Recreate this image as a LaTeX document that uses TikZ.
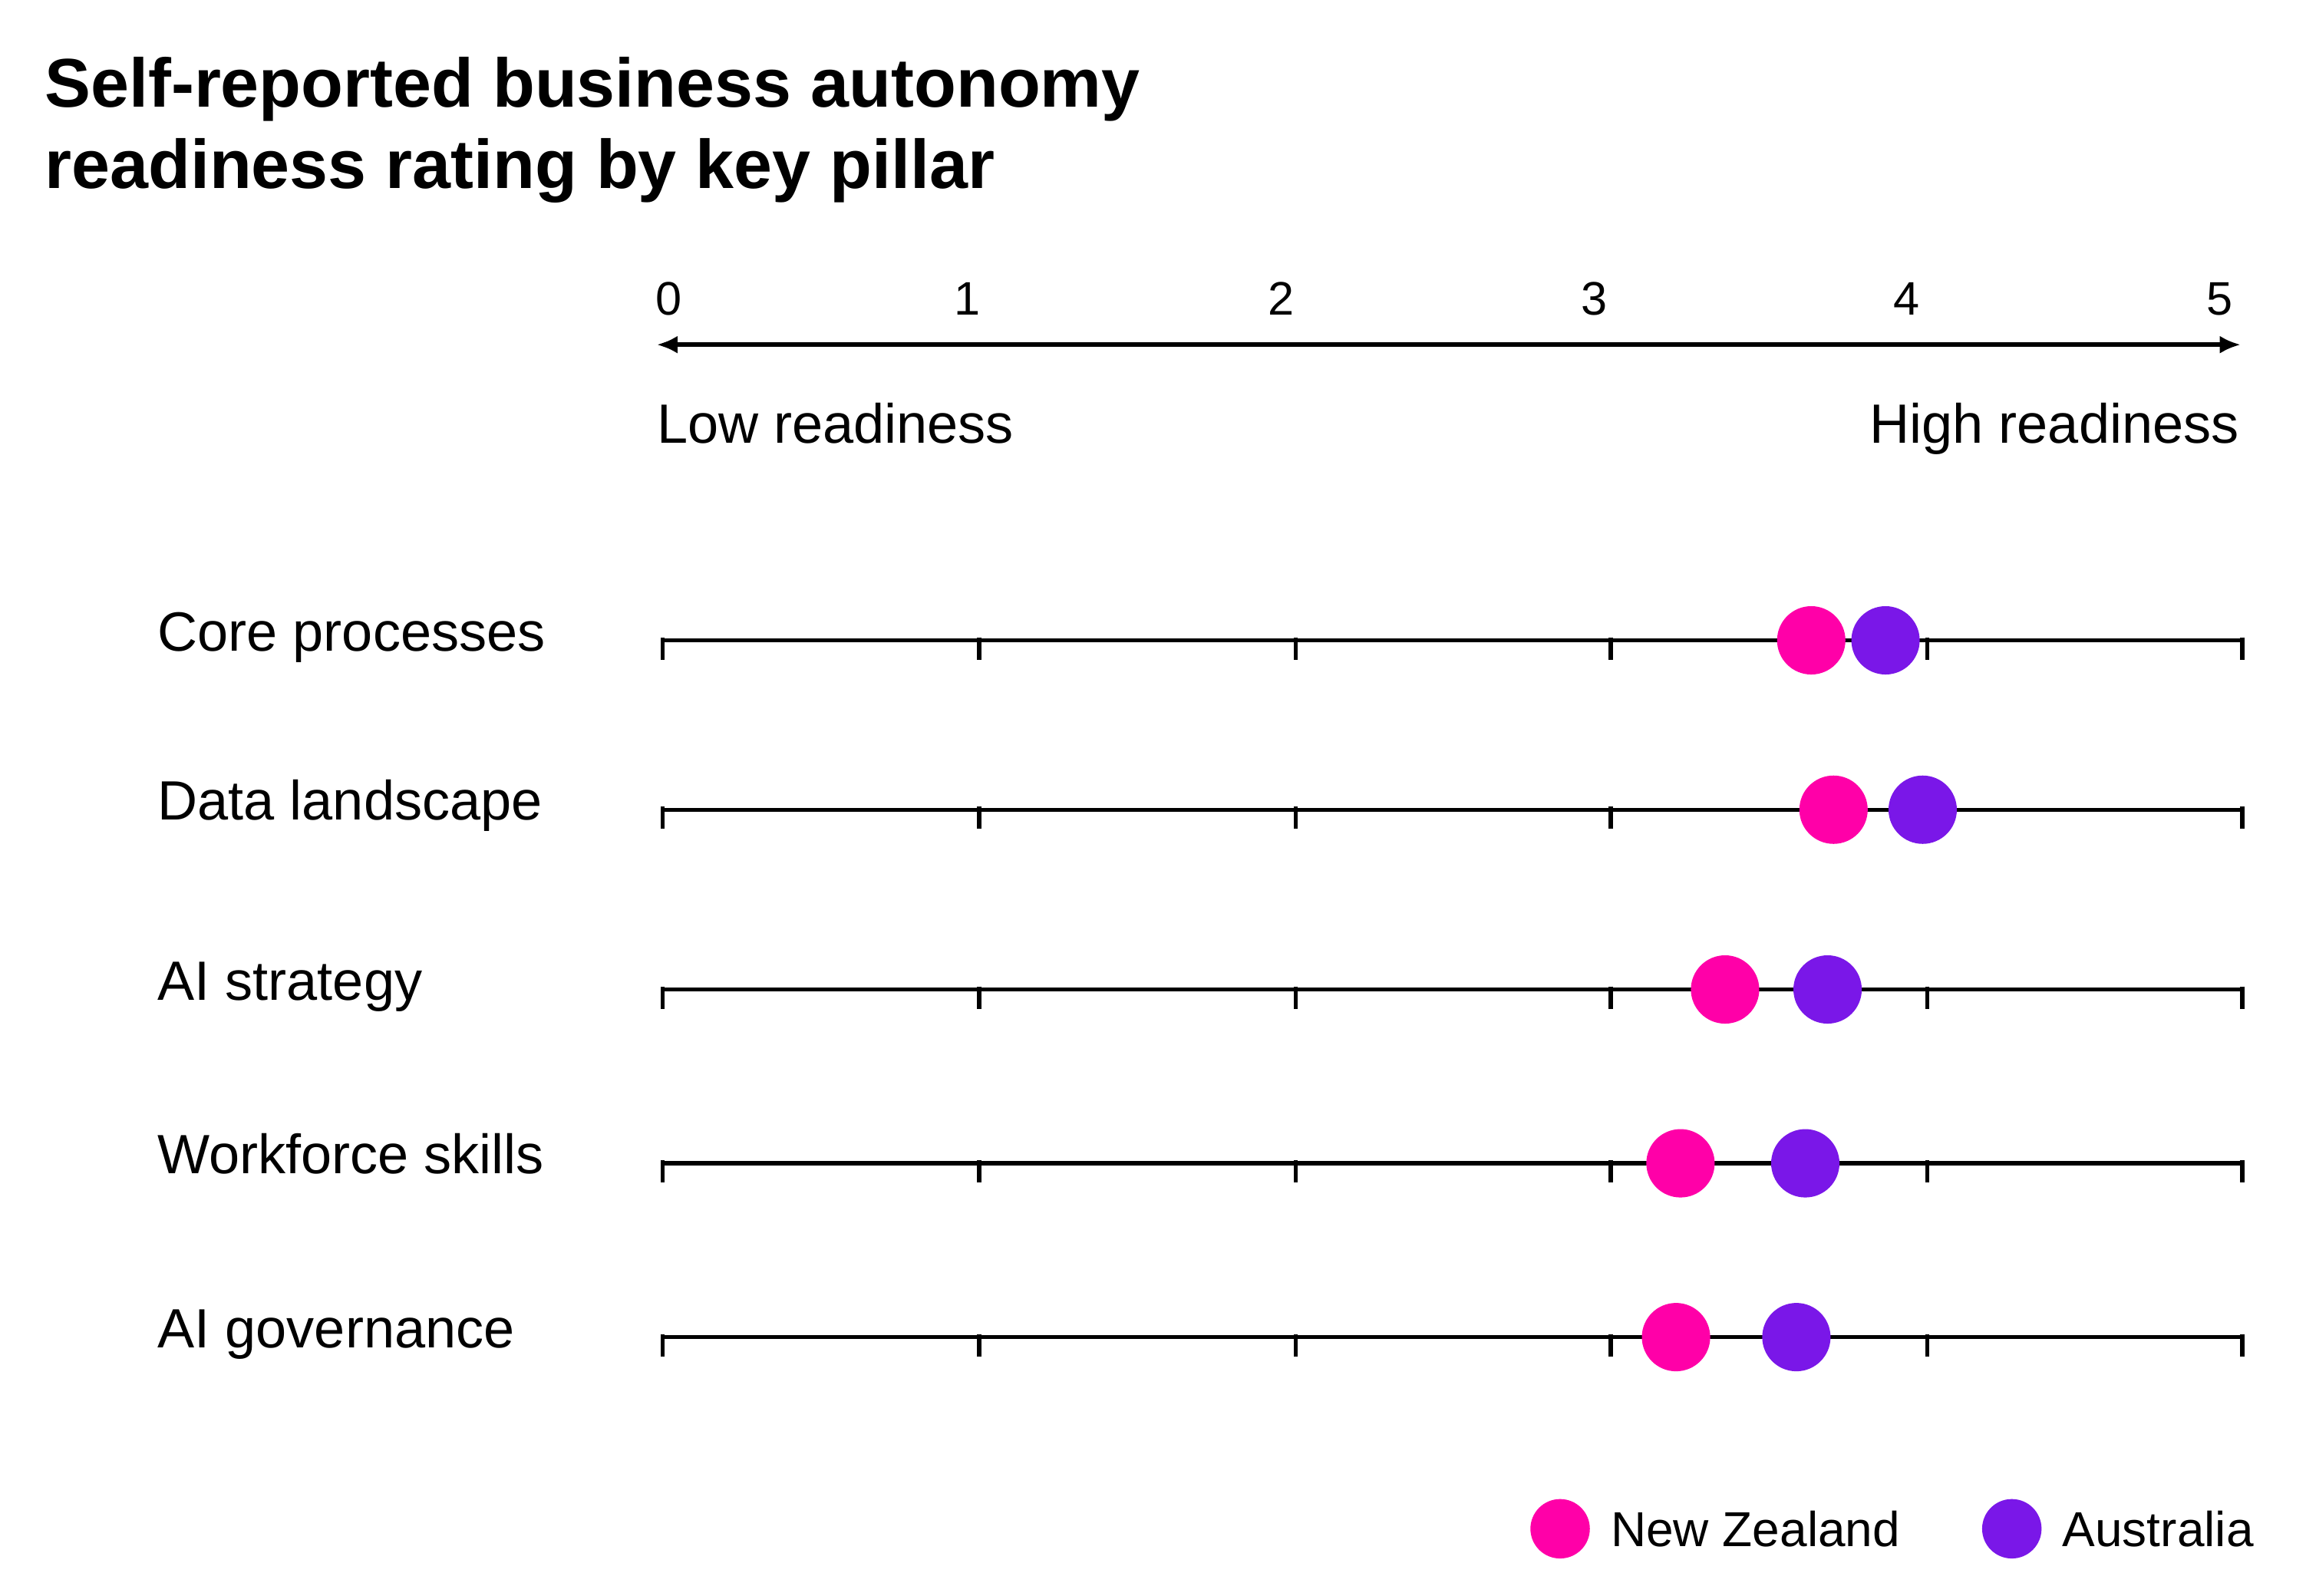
\documentclass[tikz,border=0pt]{standalone}
\usepackage{fontspec}
\setmainfont{Liberation Sans}
\usetikzlibrary{arrows.meta}
\definecolor{nz}{HTML}{FF00A8}
\definecolor{au}{HTML}{7A17E8}
\tikzset{
 lbl/.style={anchor=base west,inner sep=0pt,font=\fontsize{53}{62}\selectfont},
 num/.style={anchor=base,inner sep=0pt,font=\fontsize{45}{52}\selectfont},
 axisline/.style={line width=4pt},
 nzdot/.style={circle,fill=nz,minimum size=2.3cm,inner sep=0pt},
 audot/.style={circle,fill=au,minimum size=2.3cm,inner sep=0pt},
}
\begin{document}
\begin{tikzpicture}[x=0.05cm,y=-0.05cm]
\useasboundingbox (0,0) rectangle (1552,1074);
\node[lbl,font=\fontsize{66}{78}\selectfont\bfseries] (t1) at (30,72) {Self-reported business autonomy};
\node[lbl,font=\fontsize{66}{78}\selectfont\bfseries] (t2) at (30,127) {readiness rating by key pillar};
\foreach \v/\x in {0/450,1/651,2/862,3/1073,4/1283,5/1494}
  \node[num] (n\v) at (\x,212) {\v};
\coordinate (al) at (442,232); \coordinate (ar) at (1508,232);
\draw[axisline,{Latex[length=0.7cm,width=0.6cm]}-{Latex[length=0.7cm,width=0.6cm]}] (al) -- (ar);
\node[lbl] (low) at (442,298) {Low readiness};
\node[lbl,anchor=base east] (high) at (1507,298) {High readiness};
\foreach \i/\y/\name/\nzx/\aux in {1/431/Core processes/1219/1269,2/545/Data landscape/1234/1294,3/666/AI strategy/1161/1230,4/783/Workforce skills/1131/1215,5/900/AI governance/1128/1209}{
  \node[lbl] (r\i) at (106,\y+7) {\name};
  \coordinate (ls\i) at (446,\y); \coordinate (le\i) at (1509,\y);
  \draw[axisline] (ls\i) -- (le\i);
  \foreach \tx in {446,659,872,1084,1297,1509}
    \draw[axisline] (\tx,\y-2) -- (\tx,\y+13);
  \node[nzdot] (nz\i) at (\nzx,\y) {};
  \node[audot] (au\i) at (\aux,\y) {};
}
\node[nzdot,minimum size=2.0cm] (lnz) at (1050,1029) {};
\node[lbl,font=\fontsize{47}{54}\selectfont] (lnzt) at (1084,1041) {New Zealand};
\node[audot,minimum size=2.0cm] (lau) at (1354,1029) {};
\node[lbl,font=\fontsize{47}{54}\selectfont] (laut) at (1388,1041) {Australia};
\end{tikzpicture}
\end{document}
